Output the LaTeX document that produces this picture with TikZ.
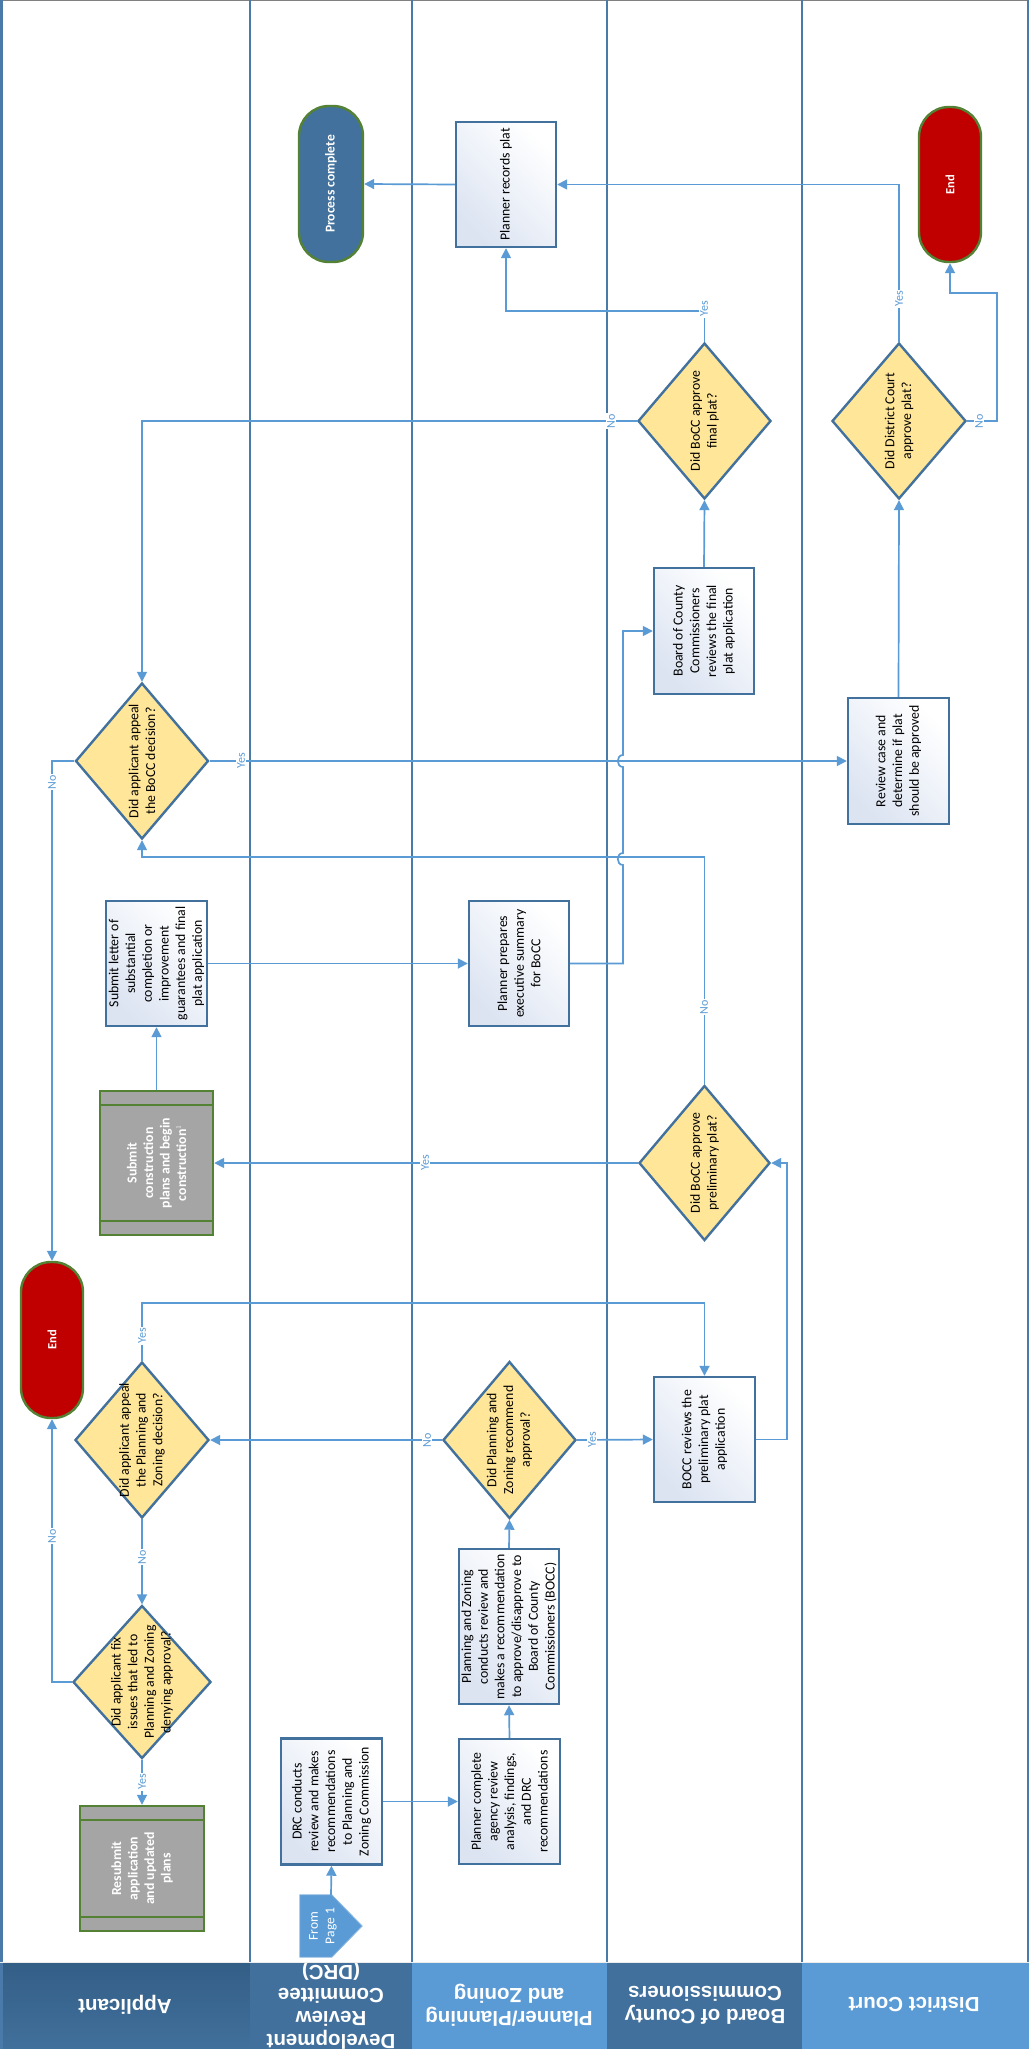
\documentclass[tikz,border=0pt]{standalone}
\usepackage{fontspec}
\setmainfont{Carlito}
\newfontfamily\hdrfont{Liberation Sans}
\usetikzlibrary{shapes.geometric,arrows.meta}
\definecolor{cline}{HTML}{5B9BD5}
\definecolor{cborder}{HTML}{41719C}
\definecolor{cdiam}{HTML}{FFE699}
\definecolor{cgreen}{HTML}{548235}
\definecolor{cred}{HTML}{C00000}
\definecolor{cgray}{HTML}{A5A5A5}
\definecolor{cgrad}{HTML}{DCE4F2}
\definecolor{clane}{HTML}{4A7AAA}
\definecolor{hdark}{HTML}{335E86}
\definecolor{hmid}{HTML}{41709C}
\definecolor{hlight}{HTML}{5B9BD5}
\definecolor{cpc}{HTML}{41719C}
\begin{document}
\begin{tikzpicture}[x=1pt,y=-1pt,
  box/.style={rectangle, draw=cborder, line width=2.4pt, top color=white, bottom color=cgrad, shading angle=-45, inner sep=0pt},
  dec/.style={diamond, draw=cborder, line width=2.4pt, fill=cdiam, inner sep=0pt, minimum width=133pt, minimum height=156pt},
  term/.style={rectangle, rounded corners=30pt, draw=cgreen, line width=2.4pt, minimum width=62pt, minimum height=156pt, inner sep=0pt},
  subproc/.style={rectangle, draw=cgreen, line width=2.4pt, fill=cgray, inner sep=0pt},
  txt/.style={rotate=90, align=center, inner sep=0pt, font=\fontsize{13.8}{16.7}\selectfont},
  wtxt/.style={rotate=90, align=center, inner sep=0pt, text=white, font=\bfseries\fontsize{13.8}{16.5}\selectfont},
  conn/.style={draw=cline, line width=1.7pt, -{Triangle[length=10pt,width=10pt]}},
  lbl/.style={rotate=90, text=cline, fill=white, inner sep=1.2pt, font=\fontsize{12}{12}\selectfont},
  lane/.style={draw=clane, line width=2pt},
  hdr/.style={rotate=180, align=center, text=white, font=\hdrfont\bfseries\fontsize{20.5}{23}\selectfont}]

\useasboundingbox (0,0) rectangle (1029,2049);
\fill[white] (0,0) rectangle (1029,2049);

% header band
\shade[top color=hdark, bottom color=hmid] (0,1962) rectangle (250,2049);
\fill[hmid] (250,1962) rectangle (412,2049);
\fill[hlight] (412,1962) rectangle (607,2049);
\fill[hmid] (607,1962) rectangle (802,2049);
\fill[hlight] (802,1962) rectangle (1029,2049);
\node[hdr] (h1) at (125,2005) {Applicant};
\node[hdr] (h2) at (331,2005) {Development\\Review\\Committee\\(DRC)};
\node[hdr] (h3) at (509,2005) {Planner/Planning\\and Zoning};
\node[hdr] (h4) at (705,2005) {Board of County\\Commissioners};
\node[hdr] (h5) at (914,2005) {District Court};

% lanes
\draw[gray, line width=1.5pt] (0,0.75) -- (1029,0.75);
\draw[draw=clane, line width=3pt] (1.5,0) -- (1.5,2049);
\draw[lane] (250,0) -- (250,1962);
\draw[lane] (412,0) -- (412,1962);
\draw[lane] (607,0) -- (607,1962);
\draw[lane] (802,0) -- (802,1962);
\draw[lane] (1027.5,0) -- (1027.5,1962);
\draw[white!85!gray, line width=1pt] (0,1962) -- (1029,1962);

% nodes
\node[term, fill=cpc, minimum width=64pt] (pc) at (331,184) {};
\node[wtxt, font=\bfseries\fontsize{13.5}{16}\selectfont] (pct) at (pc) {Process complete};

\node[box, minimum width=100pt, minimum height=125pt] (pr) at (506,184.5) {};
\node[txt] (prt) at (pr) {Planner records plat};

\node[term, fill=cred, minimum height=155pt] (end2) at (950,184.5) {};
\node[wtxt, font=\bfseries\fontsize{12.5}{15}\selectfont] (end2t) at (end2) {End};

\node[dec] (bf) at (704.5,421) {};
\node[txt] (bft) at (bf) {Did BoCC approve\\final plat?};

\node[dec, minimum width=134pt] (dc) at (899,421) {};
\node[txt] (dct) at (dc) {Did District Court\\approve plat?};

\node[box, minimum width=100pt, minimum height=126pt] (bfr) at (704,631) {};
\node[txt] (bfrt) at (bfr) {Board of County\\Commissioners\\reviews the final\\plat application};

\node[dec] (dbocc) at (142,761) {};
\node[txt] (dbocct) at (dbocc) {Did applicant appeal\\the BoCC decision?};

\node[box, minimum width=101pt, minimum height=126pt] (rc) at (898.5,761) {};
\node[txt] (rct) at (rc) {Review case and\\determine if plat\\should be approved};

\node[box, minimum width=101pt, minimum height=125pt] (sl) at (156.5,963.5) {};
\node[txt] (slt) at (sl) {Submit letter of\\substantial\\completion or\\improvement\\guarantees and final\\plat application};

\node[box, minimum width=100pt, minimum height=125pt] (pp) at (519,963.5) {};
\node[txt] (ppt) at (pp) {Planner prepares\\executive summary\\for BoCC};

\node[subproc, minimum width=113pt, minimum height=144pt] (sc) at (156.5,1163) {};
\draw[cgreen, line width=2.4pt] ([yshift=-15pt]sc.north west) -- ([yshift=-15pt]sc.north east);
\draw[cgreen, line width=2.4pt] ([yshift=15pt]sc.south west) -- ([yshift=15pt]sc.south east);
\node[wtxt] (sct) at (sc) {Submit\\construction\\plans and begin\\construction$^{\scriptscriptstyle 1}$};

\node[dec, minimum width=131pt, minimum height=155pt] (dpre) at (704.5,1163) {};
\node[txt] (dpret) at (dpre) {Did BoCC approve\\preliminary plat?};

\node[term, fill=cred] (end1) at (52,1340) {};
\node[wtxt, font=\bfseries\fontsize{12.5}{15}\selectfont] (end1t) at (end1) {End};

\node[dec, minimum width=134pt] (dapz) at (142,1440) {};
\node[txt] (dapzt) at (dapz) {Did applicant appeal\\the Planning and\\Zoning decision?};

\node[dec, minimum height=157pt] (dpz) at (509.5,1440) {};
\node[txt] (dpzt) at (dpz) {Did Planning and\\Zoning recommend\\approval?};

\node[box, minimum width=101pt, minimum height=125pt] (bpre) at (704.5,1439.5) {};
\node[txt] (bpret) at (bpre) {BOCC reviews the\\preliminary plat\\application};

\node[box, minimum width=100pt, minimum height=155pt] (pzc) at (509,1626.5) {};
\node[txt] (pzct) at (pzc) {Planning and Zoning\\conducts review and\\makes a recommendation\\to approve/disapprove to\\Board of County\\Commissioners (BOCC)};

\node[dec, minimum width=138pt, minimum height=153pt] (dfix) at (142,1682) {};
\node[txt] (dfixt) at (dfix) {Did applicant fix\\issues that led to\\Planning and Zoning\\denying approval?};

\node[box, minimum width=101pt, minimum height=126pt] (drc) at (331.5,1801.5) {};
\node[txt] (drct) at (drc) {DRC conducts\\review and makes\\recommendations\\to Planning and\\Zoning Commission};

\node[box, minimum width=101pt, minimum height=125pt] (pcomp) at (509.5,1801.5) {};
\node[txt] (pcompt) at (pcomp) {Planner complete\\agency review\\analysis, findings,\\and DRC\\recommendations};

\node[subproc, minimum width=124pt, minimum height=125pt] (rs) at (142,1868.5) {};
\draw[cgreen, line width=2.4pt] ([yshift=-15pt]rs.north west) -- ([yshift=-15pt]rs.north east);
\draw[cgreen, line width=2.4pt] ([yshift=15pt]rs.south west) -- ([yshift=15pt]rs.south east);
\node[wtxt] (rst) at (rs) {Resubmit\\application\\and updated\\plans};

\node[rectangle, minimum width=62pt, minimum height=62pt, inner sep=0pt] (fp) at (331,1926) {};
\fill[cline] (fp.north west) -- ([xshift=32pt]fp.north west) -- (fp.east) -- ([xshift=32pt]fp.south west) -- (fp.south west) -- cycle;
\draw[cline!70!white, line width=0.8pt] (fp.north west) -- ([xshift=32pt]fp.north west) -- (fp.east) -- ([xshift=32pt]fp.south west) -- (fp.south west) -- cycle;
\node[txt, text=white, font=\fontsize{13.5}{16.5}\selectfont] (fpt) at ([xshift=-8pt]fp.center) {From\\Page 1};

% connectors
\draw[conn] (pr.west) -- (pc.east);
\draw[conn] (dc.north) |- (pr.east);
\draw[conn] (bf.north) -- ++(0,-31) -| (pr.south);
\draw[conn] (bf.west) -| (dbocc.north);
\draw[conn] (dc.east) -- ++(30,0) -- ++(0,-128) -| (end2.south);
\draw[conn] (bfr.north) -- (bf.south);
\draw[conn] (rc.north) -- (dc.south);
\draw[conn] (dbocc.east) -- (rc.west);
\draw[conn] (dbocc.west) -| (end1.north);
\draw[conn] (sl.east) -- (pp.west);
\draw[conn] (pp.east) -- (623,963.5) -- (623,865) .. controls (616,865) and (616,853) .. (623,853) -- (623,767) .. controls (616,767) and (616,755) .. (623,755) |- (bfr.west);
\draw[conn] (sc.north) -- (sl.south);
\draw[conn] (dpre.west) -- (sc.east);
\draw[conn] (dpre.north) -- ++(0,-227) -| (dbocc.south);
\draw[conn] (dapz.north) -- ++(0,-58) -| (bpre.north);
\draw[conn] (dpz.west) -- (dapz.east);
\draw[conn] (dpz.east) -- (bpre.west);
\draw[conn] (bpre.east) -- ++(31,0) |- (dpre.east);
\draw[conn] (dapz.south) -- (dfix.north);
\draw[conn] (dfix.west) -| (end1.south);
\draw[conn] (dfix.south) -- (rs.north);
\draw[conn] (drc.east) -- (pcomp.west);
\draw[conn] (pcomp.north) -- (pzc.south);
\draw[conn] (pzc.north) -- (dpz.south);
\draw[conn] (fp.north) -- (drc.south);

% connector labels
\node[lbl] (l1) at (899,299) {Yes};
\node[lbl] (l2) at (704,309) {Yes};
\node[lbl] (l3) at (611,421) {No};
\node[lbl] (l4) at (979,421) {No};
\node[lbl] (l5) at (241,761) {Yes};
\node[lbl] (l6) at (52,782) {No};
\node[lbl] (l7) at (704,1007) {No};
\node[lbl] (l8) at (425,1163) {Yes};
\node[lbl] (l9) at (142,1336) {Yes};
\node[lbl] (l10) at (427,1440) {No};
\node[lbl] (l11) at (592,1440) {Yes};
\node[lbl] (l12) at (52,1536) {No};
\node[lbl] (l13) at (142,1557) {No};
\node[lbl] (l14) at (142,1782) {Yes};
\end{tikzpicture}
\end{document}
